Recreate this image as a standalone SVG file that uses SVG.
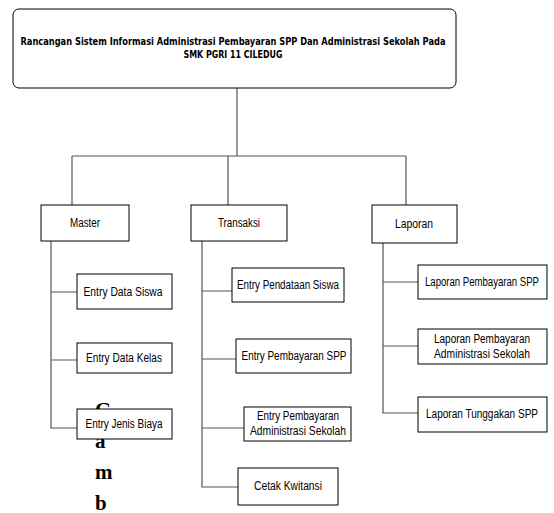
<svg xmlns="http://www.w3.org/2000/svg" width="554" height="513" viewBox="0 0 554 513">
<style>
.box{fill:#fff;stroke:#000;stroke-width:1}
.ln{fill:none;stroke:#555;stroke-width:1.2}
.t{font-family:"Liberation Sans",Arial,sans-serif;font-size:12px;fill:#000;text-anchor:middle}
.h{font-family:"DejaVu Sans Condensed","DejaVu Sans",sans-serif;font-weight:bold;font-size:10.5px;fill:#000;text-anchor:middle}
.g{font-family:"Liberation Serif","Times New Roman",serif;font-weight:bold;font-size:21px;fill:#000}
</style>
<rect width="554" height="513" fill="#fff"/>
<g id="connectors">
<path class="ln" d="M237 88V156M72 156H406M72 156V205M228 156V205M406 156V205"/>
<path class="ln" d="M51 241V428H77M51 292H77M51 360H77"/>
<path class="ln" d="M202 241V487H238M202 291H232M202 359H236M202 428H244"/>
<path class="ln" d="M383 243V413H418M383 282H418M383 346H418"/>
</g>
<g id="caption">
<text class="g" x="95" y="417">G</text>
<text class="g" x="95" y="448">a</text>
<text class="g" x="95" y="479">m</text>
<text class="g" x="95" y="510">b</text>
</g>
<g id="title">
<rect class="box" x="13" y="9" width="443" height="79" rx="6"/>
<text class="h" x="233" y="45" textLength="425" lengthAdjust="spacingAndGlyphs">Rancangan Sistem Informasi Administrasi Pembayaran SPP Dan Administrasi Sekolah Pada</text>
<text class="h" x="233" y="57.5" textLength="99" lengthAdjust="spacingAndGlyphs">SMK PGRI 11 CILEDUG</text>
</g>
<g id="master"><rect class="box" x="41" y="205" width="88" height="36"/><text class="t" x="85" y="227" textLength="30" lengthAdjust="spacingAndGlyphs">Master</text></g>
<g id="transaksi"><rect class="box" x="191" y="205" width="96" height="36"/><text class="t" x="239" y="227" textLength="42" lengthAdjust="spacingAndGlyphs">Transaksi</text></g>
<g id="laporan"><rect class="box" x="372" y="205" width="85" height="38"/><text class="t" x="414" y="228" textLength="38" lengthAdjust="spacingAndGlyphs">Laporan</text></g>
<g id="entry-data-siswa"><rect class="box" x="77" y="274" width="95" height="35"/><text class="t" x="123" y="296" textLength="79" lengthAdjust="spacingAndGlyphs">Entry Data Siswa</text></g>
<g id="entry-data-kelas"><rect class="box" x="77" y="343" width="95" height="30"/><text class="t" x="124" y="362" textLength="76" lengthAdjust="spacingAndGlyphs">Entry Data Kelas</text></g>
<g id="entry-jenis-biaya"><rect class="box" x="77" y="409" width="95" height="30"/><text class="t" x="124" y="428" textLength="77" lengthAdjust="spacingAndGlyphs">Entry Jenis Biaya</text></g>
<g id="entry-pendataan-siswa"><rect class="box" x="232" y="268" width="112" height="34"/><text class="t" x="288" y="289" textLength="102" lengthAdjust="spacingAndGlyphs">Entry Pendataan Siswa</text></g>
<g id="entry-pembayaran-spp"><rect class="box" x="236" y="339" width="115" height="34"/><text class="t" x="294" y="360" textLength="105" lengthAdjust="spacingAndGlyphs">Entry Pembayaran SPP</text></g>
<g id="entry-pembayaran-admin"><rect class="box" x="244" y="407" width="107" height="34"/><text class="t" x="298" y="420" textLength="82" lengthAdjust="spacingAndGlyphs">Entry Pembayaran</text><text class="t" x="298" y="435" textLength="96" lengthAdjust="spacingAndGlyphs">Administrasi Sekolah</text></g>
<g id="cetak-kwitansi"><rect class="box" x="238" y="468" width="100" height="37"/><text class="t" x="288" y="490" textLength="68" lengthAdjust="spacingAndGlyphs">Cetak Kwitansi</text></g>
<g id="laporan-pembayaran-spp"><rect class="box" x="418" y="265" width="129" height="34"/><text class="t" x="482" y="286" textLength="114" lengthAdjust="spacingAndGlyphs">Laporan Pembayaran SPP</text></g>
<g id="laporan-pembayaran-admin"><rect class="box" x="418" y="329" width="129" height="35"/><text class="t" x="482" y="343" textLength="96" lengthAdjust="spacingAndGlyphs">Laporan Pembayaran</text><text class="t" x="482" y="358" textLength="96" lengthAdjust="spacingAndGlyphs">Administrasi Sekolah</text></g>
<g id="laporan-tunggakan-spp"><rect class="box" x="418" y="397" width="129" height="35"/><text class="t" x="482" y="418" textLength="112" lengthAdjust="spacingAndGlyphs">Laporan Tunggakan SPP</text></g>
</svg>
